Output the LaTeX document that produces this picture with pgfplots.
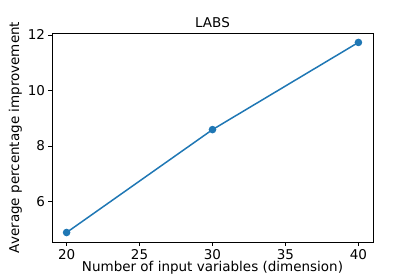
\documentclass[border=0pt]{standalone}
\usepackage{pgfplots}
\pgfplotsset{compat=1.18}
\usepackage{fontspec}
\setmainfont{DejaVu Sans}
\definecolor{mplblue}{HTML}{1F77B4}
\begin{document}
\begin{tikzpicture}[x=1bp,y=1bp]
\path[use as bounding box] (0,0) rectangle (415,277);
\begin{axis}[
  at={(52bp,35bp)}, anchor=south west,
  scale only axis,
  width=321bp, height=209bp,
  xmin=19, xmax=41, ymin=4.542, ymax=12.07,
  xtick={20,25,30,35,40}, ytick={6,8,10,12},
  tick align=outside, tick pos=lower,
  major tick length=3.5bp,
  axis line style={line width=0.8bp},
  every tick/.style={black, line width=0.8bp},
  /pgf/number format/assume math mode=true,
  tick label style={font=\fontsize{13.5bp}{16bp}\selectfont},
  label style={font=\fontsize{13.5bp}{16bp}\selectfont},
  title style={font=\fontsize{13.5bp}{16bp}\selectfont, yshift=-4bp},
  title={LABS},
  xlabel={Number of input variables (dimension)},
  ylabel={Average percentage improvement},
  xlabel style={yshift=4.5bp},
  ylabel style={yshift=-1bp},
]
\addplot[color=mplblue, line width=1.5bp, mark=*, mark size=3bp, mark options={fill=mplblue, draw=mplblue}]
coordinates {(20,4.884) (30,8.59) (40,11.73)};
\end{axis}
\end{tikzpicture}
\end{document}
